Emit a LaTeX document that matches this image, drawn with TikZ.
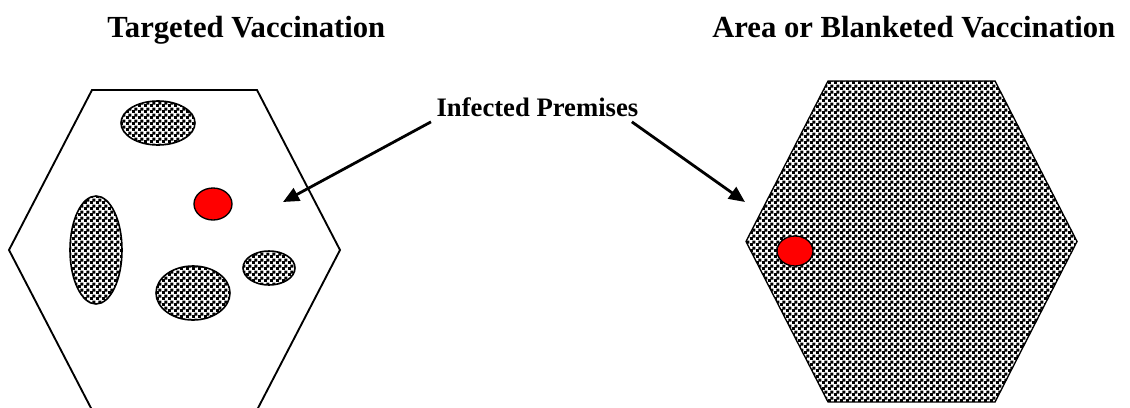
\documentclass[tikz,border=0pt]{standalone}
\usepackage{fontspec}
\setmainfont{Liberation Serif}
\usepackage{tikz}
\usetikzlibrary{arrows.meta,patterns}

% checks for the vaccinated areas
\pgfdeclarepatternformonly{vacchecks}{\pgfpointorigin}{\pgfqpoint{4.5pt}{4.5pt}}{\pgfqpoint{4.5pt}{4.5pt}}{%
  \pgfpathrectangle{\pgfpointorigin}{\pgfqpoint{2.55pt}{2.55pt}}%
  \pgfpathrectangle{\pgfqpoint{2.1pt}{2.1pt}}{\pgfqpoint{2.55pt}{2.55pt}}%
  \pgfusepath{fill}}

\begin{document}
\begin{tikzpicture}[
    x=0.75pt, y=-0.75pt,
    title/.style={font=\fontsize{23}{27}\selectfont\bfseries, inner sep=0pt, anchor=base west},
    lbl/.style={font=\fontsize{20}{24}\selectfont\bfseries, inner sep=4pt, anchor=base west},
    hexline/.style={draw, line width=1.4pt},
    spot/.style={draw, line width=1.2pt, preaction={fill=white}, pattern=vacchecks},
    ip/.style={draw, line width=1pt, fill=red},
    arr/.style={-{Triangle[length=12pt,width=10.5pt]}, line width=2.1pt}
]
\clip (0,0) rectangle (1130,407);

\node[title] (tv) at (107,37) {Targeted Vaccination};
\node[title] (bv) at (712,37) {Area or Blanketed Vaccination};

% targeted: spots inside an empty zone
\draw[hexline] (92,90) -- (257,90) -- (340,250) -- (257,410) -- (92,410) -- (9,250) -- cycle;
\draw[spot] (158,123) ellipse [x radius=37, y radius=22];
\draw[spot] (96,250) ellipse [x radius=26, y radius=54];
\draw[spot] (193,293) ellipse [x radius=37, y radius=27];
\draw[spot] (269,268) ellipse [x radius=26, y radius=17];
\draw[ip] (213,204) ellipse [x radius=19, y radius=16];

% blanket: whole zone covered
\draw[line width=1pt, preaction={fill=white}, pattern=vacchecks]
  (828,81) -- (995,81) -- (1077,241.5) -- (995,402) -- (828,402) -- (746,241.5) -- cycle;
\draw[ip] (795,251) ellipse [x radius=18, y radius=15];

\node[lbl] (ip) at (431,116) {Infected Premises};
\coordinate (tipl) at (283,202);
\coordinate (tipr) at (745,202);

\draw[arr] (ip.south west) -- (tipl);
\draw[arr] ([xshift=-9pt]ip.south east) -- (tipr);
\end{tikzpicture}
\end{document}
